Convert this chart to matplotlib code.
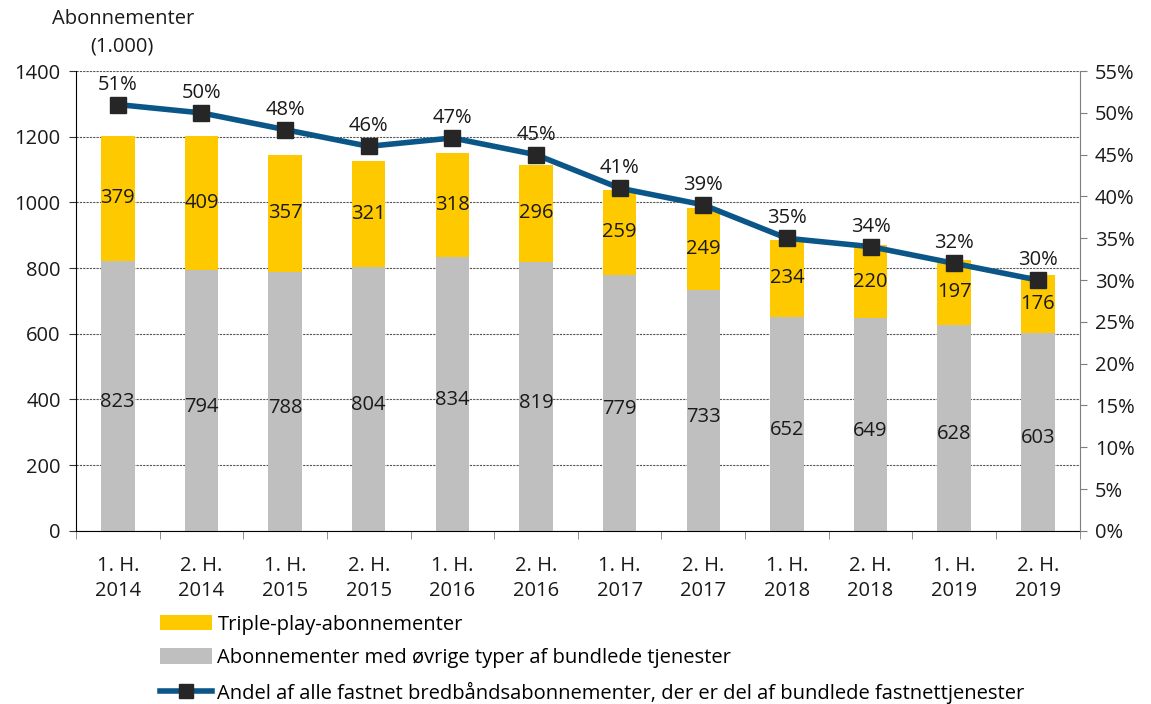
import matplotlib.pyplot as plt
from matplotlib.patches import Patch
from matplotlib.lines import Line2D
import numpy as np

plt.rcParams["font.family"] = ["Open Sans", "DejaVu Sans"]
plt.rcParams["font.size"] = 14

periods = ["1. H.\n2014", "2. H.\n2014", "1. H.\n2015", "2. H.\n2015",
           "1. H.\n2016", "2. H.\n2016", "1. H.\n2017", "2. H.\n2017",
           "1. H.\n2018", "2. H.\n2018", "1. H.\n2019", "2. H.\n2019"]
other_bundles = [823, 794, 788, 804, 834, 819, 779, 733, 652, 649, 628, 603]
triple_play = [379, 409, 357, 321, 318, 296, 259, 249, 234, 220, 197, 176]
share_pct = [51, 50, 48, 46, 47, 45, 41, 39, 35, 34, 32, 30]

yellow = "#FFC900"
grey = "#BFBFBF"
blue = "#0B5689"
marker_col = "#262626"
fs = 14.5

fig = plt.figure(figsize=(11.51, 7.04), dpi=100)
ax = fig.add_axes([0.066, 0.246, 0.872, 0.653])
ax2 = ax.twinx()

x = np.arange(len(periods))
ax.bar(x, other_bundles, width=0.4, color=grey, zorder=2)
ax.bar(x, triple_play, width=0.4, bottom=other_bundles, color=yellow, zorder=2)

for i in range(len(x)):
    ax.text(x[i], other_bundles[i] / 2 - 20, str(other_bundles[i]), ha="center", va="center",
            fontsize=fs, color="#1a1a1a", zorder=3)
    ax.text(x[i], other_bundles[i] + triple_play[i] / 2, str(triple_play[i]), ha="center",
            va="center", fontsize=fs, color="#1a1a1a", zorder=3)

ax.set_xlim(-0.5, len(x) - 0.5)
ax.set_ylim(0, 1400)
ax.set_yticks(range(0, 1401, 200))
ax.yaxis.grid(True, linestyle=(0, (2, 1)), color="#555555", linewidth=0.8)
ax.set_axisbelow(True)
ax.set_xticks(x)
ax.set_xticklabels(periods, linespacing=1.35)
ax.set_xticks(np.arange(-0.5, len(x)), minor=True)
ax.tick_params(axis="x", which="major", length=0, pad=18)
ax.tick_params(axis="x", which="minor", length=6, color="#7f7f7f")
ax.tick_params(axis="y", length=5, color="#333333", pad=6)
ax.tick_params(labelsize=fs, labelcolor="#1a1a1a")
ax.spines["top"].set_visible(False)
ax.spines["right"].set_visible(False)
ax.spines["left"].set_color("#000000")
ax.spines["bottom"].set_color("#000000")

# share of fixed broadband on the secondary axis
ax2.plot(x, share_pct, color=blue, linewidth=4, marker="s", markersize=11,
         markerfacecolor=marker_col, markeredgecolor=marker_col, zorder=5)
for i in range(len(x)):
    ax2.text(x[i], share_pct[i] + 1.2, f"{share_pct[i]}%", ha="center", va="bottom",
             fontsize=fs, color="#1a1a1a")
ax2.set_ylim(0, 55)
ax2.set_yticks(range(0, 56, 5))
ax2.set_yticklabels([f"{v}%" for v in range(0, 56, 5)])
ax2.tick_params(axis="y", length=5, color="#7f7f7f", labelsize=fs, labelcolor="#1a1a1a",
                pad=6)
for s in ["top", "left", "bottom"]:
    ax2.spines[s].set_visible(False)
ax2.spines["right"].set_color("#7f7f7f")

fig.text(0.045, 0.973, "Abonnementer", fontsize=fs, color="#1a1a1a", va="center")
fig.text(0.078, 0.934, "(1.000)", fontsize=fs, color="#1a1a1a", va="center")

handles = [
    Patch(facecolor=yellow, edgecolor="none"),
    Patch(facecolor=grey, edgecolor="none"),
    Line2D([0], [0], color=blue, linewidth=4, marker="s", markersize=10,
           markerfacecolor=marker_col, markeredgecolor=marker_col),
]
labels = [
    "Triple-play-abonnementer",
    "Abonnementer med øvrige typer af bundlede tjenester",
    "Andel af alle fastnet bredbåndsabonnementer, der er del af bundlede fastnettjenester",
]
# legend block sits under the period labels
fig.legend(handles, labels, loc="upper left", bbox_to_anchor=(0.139, 0.127),
           bbox_transform=fig.transFigure, frameon=False, fontsize=fs,
           handlelength=2.6, handleheight=0.8, handletextpad=0.25, labelspacing=0.67,
           borderaxespad=0, borderpad=0)

fig.savefig("out.png", dpi=100)
